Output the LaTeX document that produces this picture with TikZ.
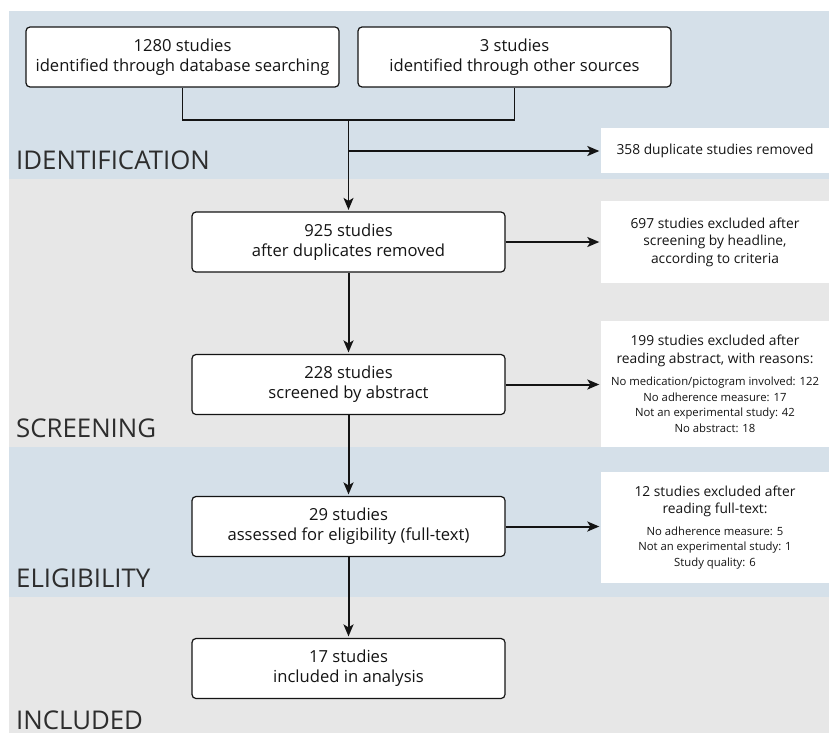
\documentclass[tikz,border=0pt]{standalone}
\usepackage{fontspec}
\setmainfont{Open Sans}
\usetikzlibrary{arrows.meta}
\definecolor{bandblue}{RGB}{213,224,233}
\definecolor{bandgray}{RGB}{231,231,231}
\definecolor{inkc}{RGB}{20,20,20}
\definecolor{labelc}{RGB}{45,45,45}
\newcommand{\tf}{\fontsize{13.8}{17.5}\selectfont}
\begin{document}
\begin{tikzpicture}[x=1pt,y=-1pt,
  box/.style={draw=inkc, line width=1.2pt, rounded corners=4pt, fill=white,
    minimum width=313pt, minimum height=60pt, align=center, inner sep=0pt,
    text=inkc, font=\fontsize{16.6}{20}\selectfont},
  rbox/.style={fill=white, minimum width=228pt, align=center, inner sep=0pt,
    text=inkc, font=\fontsize{11.3}{15.5}\selectfont},
  lbl/.style={anchor=base west, inner sep=0pt, text=labelc,
    font=\fontsize{25.8}{30}\selectfont},
  link/.style={line width=1.4pt, draw=inkc},
  tip/.style={-{Stealth[length=12pt,width=10pt,inset=3pt]}, shorten >=1.5pt},
  arr/.style={line width=2pt, draw=inkc, tip}
]
\useasboundingbox (0,0) rectangle (829,733);
\fill[white] (0,0) rectangle (829,733);
% bands
\fill[bandblue] (9,11) rectangle (829,179);
\fill[bandgray] (9,179) rectangle (829,447);
\fill[bandblue] (9,447) rectangle (829,597);
\fill[bandgray] (9,597) rectangle (829,733);
% labels
\node[lbl] (lid) at (16,169) {IDENTIFICATION};
\node[lbl] (lsc) at (16,437) {SCREENING};
\node[lbl] (lel) at (16,587) {ELIGIBILITY};
\node[lbl] (lin) at (16,729.5) {INCLUDED};
% main boxes
\node[box] (A) at (182.5,57) {1280 studies\\identified through database searching};
\node[box] (B) at (514.5,57) {3 studies\\identified through other sources};
\node[box] (C) at (348.5,242) {925 studies\\after duplicates removed};
\node[box] (D) at (348.5,384.5) {228 studies\\screened by abstract};
\node[box] (E) at (348.5,526.5) {29 studies\\assessed for eligibility (full-text)};
\node[box] (F) at (348.5,668.5) {17 studies\\included in analysis};
% right boxes
\node[rbox, minimum height=45pt] (R1) at (715,150.5) {\tf 358 duplicate studies removed};
\node[rbox, minimum height=82pt] (R2) at (715,242) {\tf 697 studies excluded after\\[2pt]\tf screening by headline,\\[2pt]\tf according to criteria};
\node[rbox, minimum height=126pt] (R3) at (715,384) {\tf 199 studies excluded after\\[2.5pt]\tf reading abstract, with reasons:\\[6.5pt]No medication/pictogram involved: 122\\No adherence measure: 17\\Not an experimental study: 42\\No abstract: 18};
\node[rbox, minimum height=111pt] (R4) at (715,527.5) {\tf 12 studies excluded after\\[2pt]\tf reading full-text:\\[6pt]No adherence measure: 5\\Not an experimental study: 1\\Study quality: 6};
% connectors
\coordinate (m1) at (182.5,120);
\coordinate (m2) at (514.5,120);
\coordinate (mj) at (348.5,120);
\coordinate (br) at (348.5,151);
\draw[link] (A.south) -- (m1) -- (m2) -- (B.south);
\draw[link, tip] (mj) -- (C.north);
\draw[arr] (br) -- (br -| R1.west);
\draw[arr] (C.east) -- (C.east -| R2.west);
\draw[arr] (C.south) -- (D.north);
\draw[arr] (D.east) -- (D.east -| R3.west);
\draw[arr] (D.south) -- (E.north);
\draw[arr] (E.east) -- (E.east -| R4.west);
\draw[arr] (E.south) -- (F.north);
\end{tikzpicture}
\end{document}
